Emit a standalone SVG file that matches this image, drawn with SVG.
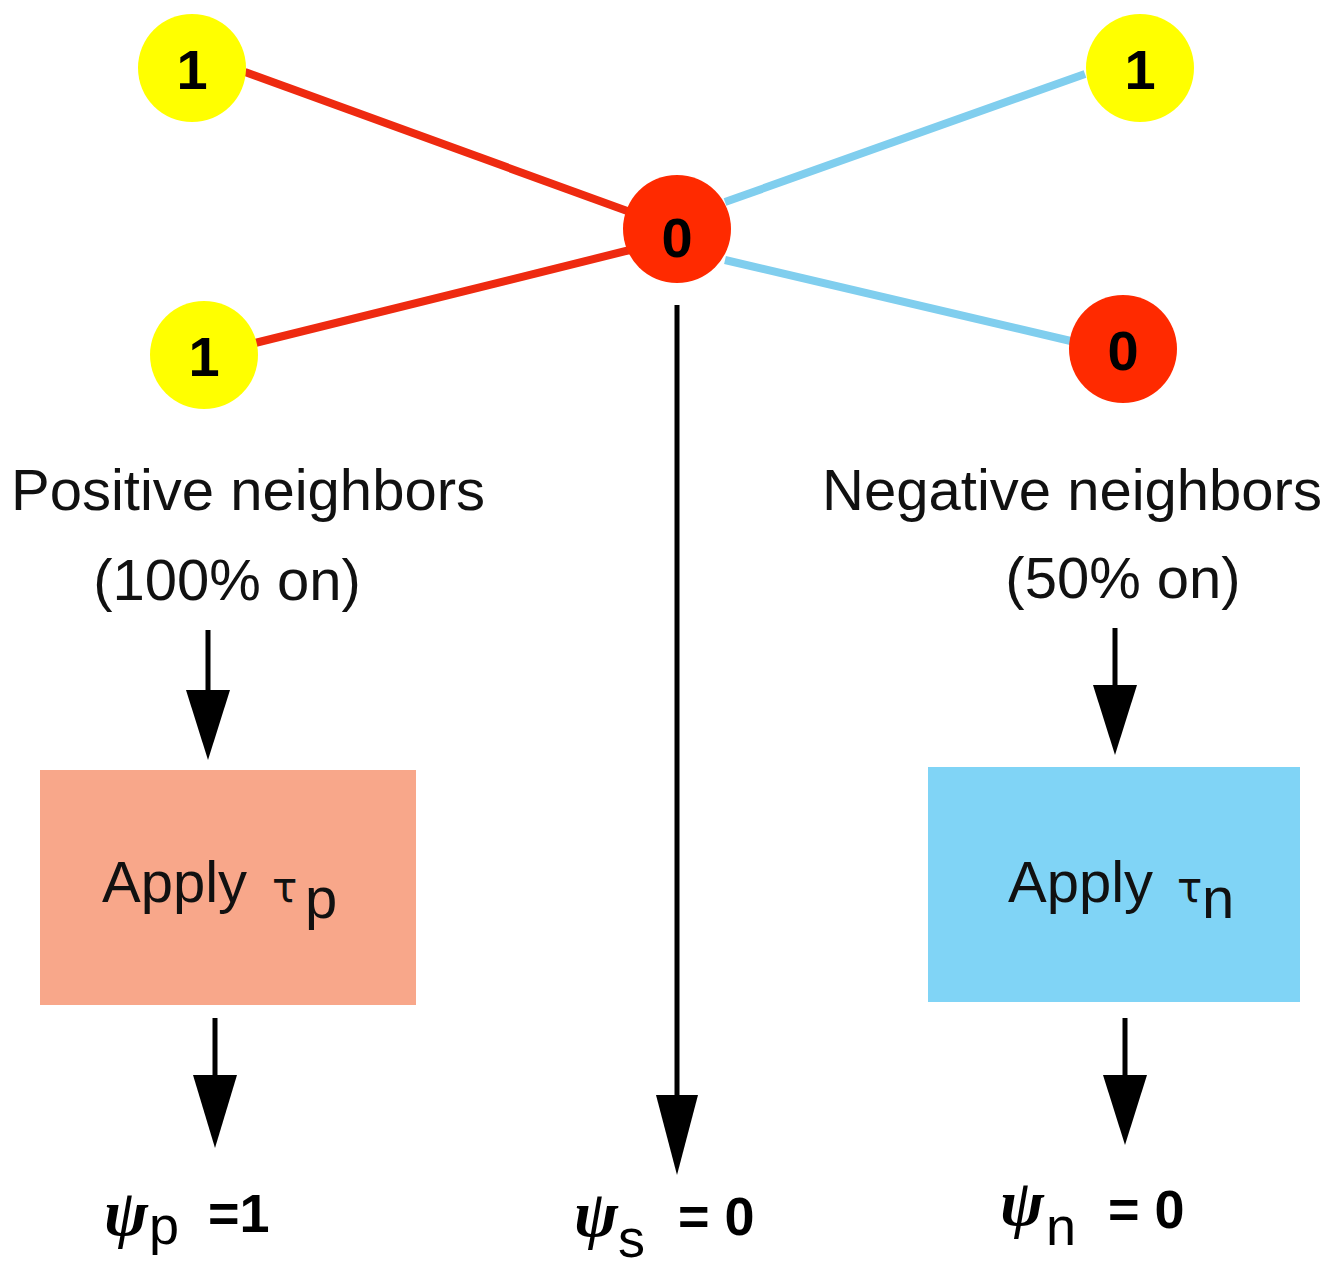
<svg xmlns="http://www.w3.org/2000/svg" width="1342" height="1266" viewBox="0 0 1342 1266">
<defs>
<style>
.t{font-family:"Liberation Sans",Arial,sans-serif;font-size:58px;fill:#111}
.tau{font-family:"DejaVu Sans",sans-serif;font-size:42px;fill:#111}
.nl{font-family:"Liberation Sans",Arial,sans-serif;font-size:56px;font-weight:bold;fill:#000;text-anchor:middle}
.psi{font-family:"Liberation Serif","Times New Roman",serif;font-style:italic;font-weight:bold;font-size:66px;fill:#000}
.sub{font-family:"Liberation Sans",Arial,sans-serif;font-size:54px;fill:#000}
.eq{font-family:"Liberation Sans",Arial,sans-serif;font-size:54px;font-weight:bold;fill:#000}
.red{stroke:#ee2a10;stroke-width:8;fill:none}
.blue{stroke:#80ceee;stroke-width:8;fill:none}
.arr{stroke:#000;stroke-width:5;fill:none}
</style>
</defs>
<rect width="1342" height="1266" fill="#fff"/>
<g id="connectors">
<line class="red" x1="245" y1="72" x2="630" y2="212"/>
<line class="red" x1="255" y1="343" x2="630" y2="250"/>
<line class="blue" x1="725" y1="202" x2="1085" y2="74"/>
<line class="blue" x1="725" y1="260" x2="1075" y2="342"/>
<line class="arr" x1="677" y1="305" x2="677" y2="1100"/>
<polygon points="656,1095 698,1095 677,1175" fill="#000"/>
<line class="arr" x1="208" y1="630" x2="208" y2="695"/>
<polygon points="186,690 230,690 208,760" fill="#000"/>
<line class="arr" x1="215" y1="1018" x2="215" y2="1080"/>
<polygon points="193,1075 237,1075 215,1148" fill="#000"/>
<line class="arr" x1="1115" y1="628" x2="1115" y2="690"/>
<polygon points="1093,685 1137,685 1115,755" fill="#000"/>
<line class="arr" x1="1125" y1="1018" x2="1125" y2="1080"/>
<polygon points="1103,1075 1147,1075 1125,1145" fill="#000"/>
</g>
<g id="node-tl"><circle cx="192" cy="68" r="54" fill="#ffff00"/><text class="nl" x="192" y="89">1</text></g>
<g id="node-bl"><circle cx="204" cy="355" r="54" fill="#ffff00"/><text class="nl" x="204" y="376">1</text></g>
<g id="node-c"><circle cx="677" cy="229" r="54" fill="#ff2a00"/><text class="nl" x="677" y="257">0</text></g>
<g id="node-tr"><circle cx="1140" cy="68" r="54" fill="#ffff00"/><text class="nl" x="1140" y="89">1</text></g>
<g id="node-br"><circle cx="1123" cy="349" r="54" fill="#ff2a00"/><text class="nl" x="1123" y="370">0</text></g>
<g id="label-pos">
<text class="t" x="248" y="510" text-anchor="middle">Positive neighbors</text>
<text class="t" x="227" y="600" text-anchor="middle">(100% on)</text>
</g>
<g id="label-neg">
<text class="t" x="1072" y="510" text-anchor="middle">Negative neighbors</text>
<text class="t" x="1123" y="598" text-anchor="middle">(50% on)</text>
</g>
<g id="box-p">
<rect x="40" y="770" width="376" height="235" fill="#f8a78a"/>
<text class="t" x="102" y="902">Apply</text>
<text class="tau" x="272" y="902">τ</text>
<text class="t" x="305" y="918">p</text>
</g>
<g id="box-n">
<rect x="928" y="767" width="372" height="235" fill="#80d4f6"/>
<text class="t" x="1008" y="902">Apply</text>
<text class="tau" x="1177" y="902">τ</text>
<text class="t" x="1202" y="918">n</text>
</g>
<g id="out-p">
<text class="psi" x="104" y="1235">ψ</text><text class="sub" x="149" y="1244">p</text>
<text class="eq" x="208" y="1232">=1</text>
</g>
<g id="out-s">
<text class="psi" x="574" y="1236">ψ</text><text class="sub" x="618" y="1257">s</text>
<text class="eq" x="678" y="1235">= 0</text>
</g>
<g id="out-n">
<text class="psi" x="1000" y="1225">ψ</text><text class="sub" x="1046" y="1245">n</text>
<text class="eq" x="1108" y="1228">= 0</text>
</g>
</svg>
